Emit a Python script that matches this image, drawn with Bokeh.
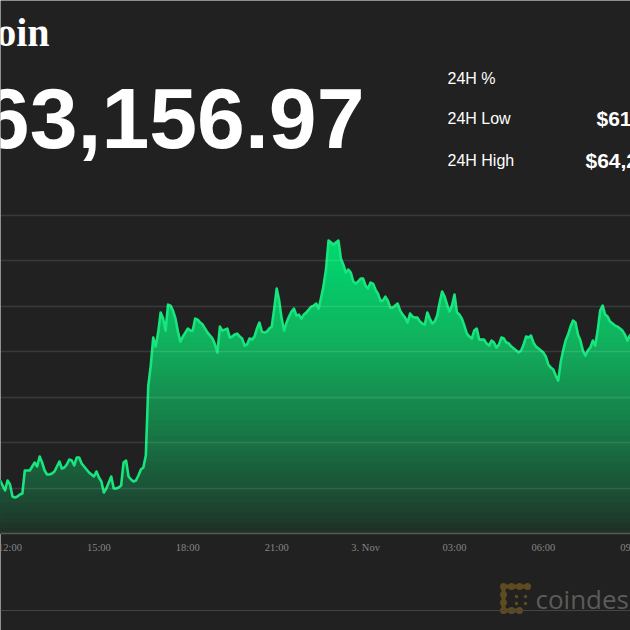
import numpy as np
from bokeh.plotting import figure
from bokeh.models import Range1d, Label, LabelSet, ColumnDataSource, Span, Grid, FixedTicker
from bokeh.embed import file_html
from bokeh.resources import INLINE

# ---------------- data (BTC/USD, 5-minute steps from 2 Nov 11:40) ----------------
start_hour = 11 + 40 / 60
step_minutes = 5
prices = [
    61583, 61528, 61473, 61583, 61539, 61407, 61396, 61407, 61429, 61440,
    61693, 61693, 61693, 61737, 61781, 61737, 61847, 61781, 61693, 61649,
    61649, 61660, 61682, 61737, 61792, 61715, 61726, 61759, 61814, 61803,
    61748, 61836, 61836, 61770, 61737, 61704, 61671, 61649, 61627, 61682,
    61616, 61572, 61451, 61495, 61561, 61627, 61495, 61495, 61506, 61528,
    61781, 61803, 61627, 61594, 61572, 61583, 61638, 61704, 61726, 61858,
    62628, 62848, 63156, 63057, 63211, 63431, 63365, 63233, 63519, 63508,
    63453, 63365, 63222, 63112, 63167, 63211, 63255, 63233, 63233, 63365,
    63354, 63321, 63299, 63255, 63211, 63178, 63145, 63079, 62991, 63277,
    63233, 63244, 63255, 63156, 63167, 63189, 63200, 63167, 63145, 63068,
    63079, 63145, 63134, 63167, 63255, 63321, 63222, 63211, 63222, 63255,
    63277, 63475, 63695, 63563, 63365, 63233, 63321, 63387, 63442, 63475,
    63398, 63409, 63365, 63409, 63431, 63464, 63497, 63508, 63530, 63475,
    63596, 63728, 63915, 64223, 64201, 64179, 64201, 64223, 64025, 63959,
    63871, 63904, 63871, 63772, 63750, 63772, 63805, 63805, 63728, 63695,
    63761, 63750, 63684, 63640, 63563, 63563, 63607, 63563, 63486, 63486,
    63508, 63530, 63453, 63409, 63376, 63321, 63420, 63387, 63376, 63376,
    63332, 63310, 63299, 63431, 63365, 63310, 63332, 63398, 63541, 63662,
    63607, 63519, 63442, 63508, 63629, 63431, 63409, 63365, 63288, 63200,
    63167, 63145, 63233, 63255, 63134, 63134, 63134, 63090, 63068, 63123,
    63101, 63046, 63079, 63156, 63145, 63101, 63090, 63057, 63035, 63013,
    62991, 63013, 63079, 63167, 63156, 63178, 63101, 63057, 63035, 63013,
    62991, 62947, 62859, 62826, 62804, 62738, 62683, 62881, 63013, 63123,
    63189, 63277, 63343, 63321, 63189, 63123, 63013, 62958, 63013, 63046,
    63123, 63068, 63233, 63453, 63508, 63409, 63387, 63332, 63310, 63288,
    63277, 63255, 63233, 63189, 63123, 63178, 63200,
]
hours = start_hour + np.arange(len(prices)) * step_minutes / 60.0
prices = np.array(prices, dtype=float)

tick_hours = [12, 15, 18, 21, 24, 27, 30, 33]
tick_labels = ["12:00", "15:00", "18:00", "21:00", "3. Nov", "03:00", "06:00", "09:00"]
grid_levels = [61500, 62000, 62500, 63000, 63500, 64000, 64500]
axis_floor = 61000

title_text = "Bitcoin"
price_text = "$63,156.97"
stat_labels = ["24H %", "24H Low", "24H High"]
stat_values = ["$61,210.84", "$64,270.02"]
brand_text = "coindesk"

# ---------------- layout ----------------
W = H = 630
BG = "#212121"
x0, x1 = 11.679, 32.94
y0, y1 = 59932.0, 66866.0


def px_x(px):
    return x0 + px / W * (x1 - x0)


def px_y(py):
    return y1 - py / H * (y1 - y0)


p = figure(width=W, height=H, x_range=Range1d(x0, x1), y_range=Range1d(y0, y1),
           x_axis_location=None, y_axis_location=None, toolbar_location=None,
           output_backend="svg", min_border=0, background_fill_color=BG,
           border_fill_color=BG, outline_line_color=None)
p.xgrid.visible = False
p.ygrid.visible = False

# gradient area fill: layered areas, painted from the top colour down
fill_top = 64400.0
edges = np.linspace(axis_floor, fill_top, 61)
stop_f = [0.0, 0.10, 0.33, 0.64, 0.92, 1.0]
stop_c = np.array([(31, 48, 38), (28, 72, 50), (24, 120, 70),
                   (16, 180, 95), (0, 214, 110), (0, 222, 114)], dtype=float)
for k in range(len(edges) - 2, -1, -1):
    lo, hi = edges[k], edges[k + 1]
    if k == len(edges) - 2:
        hi = 70000.0
    f = ((lo + edges[k + 1]) / 2 - axis_floor) / (fill_top - axis_floor)
    rgb = [int(round(np.interp(f, stop_f, stop_c[:, c]))) for c in range(3)]
    col = "#%02x%02x%02x" % tuple(rgb)
    p.varea(x=hours, y1=axis_floor, y2=np.minimum(prices, hi),
            fill_color=col, fill_alpha=1.0)

grid = Grid(dimension=1, ticker=FixedTicker(ticks=grid_levels),
            grid_line_color="white", grid_line_alpha=0.11, grid_line_width=1.5,
            level="overlay")
p.add_layout(grid)

p.line(hours, prices, line_color="#17e57d", line_width=2.6, line_join="round")

p.add_layout(Span(location=axis_floor, dimension="width", line_color="#5a5a5a",
                  line_width=1.5))
p.add_layout(Span(location=px_y(610), dimension="width", line_color="#444444",
                  line_width=1))

# x tick labels
tick_src = ColumnDataSource(dict(x=tick_hours, text=tick_labels))
p.add_layout(LabelSet(source=tick_src, x="x", y=H - 547, y_units="screen", text="text",
                      text_align="center", text_baseline="middle",
                      text_font="Liberation Serif", text_font_size="10.5px",
                      text_color="#858585"))

# header texts
p.add_layout(Label(x=49, y=H - 32, x_units="screen", y_units="screen", text=title_text,
                   text_align="right", text_baseline="middle",
                   text_font="Liberation Serif", text_font_style="bold",
                   text_font_size="40px", text_color="white"))
p.add_layout(Label(x=364, y=H - 117, x_units="screen", y_units="screen", text=price_text,
                   text_align="right", text_baseline="middle",
                   text_font="Liberation Sans", text_font_style="bold",
                   text_font_size="86px", text_color="white"))
for lab, yy in zip(stat_labels, [78, 118, 160]):
    p.add_layout(Label(x=447, y=H - yy, x_units="screen", y_units="screen", text=lab,
                       text_align="left", text_baseline="middle",
                       text_font="Liberation Sans", text_font_size="16px",
                       text_color="white"))
for val, xx, yy in zip(stat_values, [596, 585], [118, 160]):
    p.add_layout(Label(x=xx, y=H - yy, x_units="screen", y_units="screen", text=val,
                       text_align="left", text_baseline="middle",
                       text_font="Liberation Sans", text_font_style="bold",
                       text_font_size="21px", text_color="white"))

# brand mark
gold = "#5e4c20"
path_px = [(527, 586), (503, 586), (503, 610), (519, 610)]
p.line([px_x(a) for a, b in path_px], [px_y(b) for a, b in path_px],
       line_color=gold, line_width=4)
big = [(503, 586), (511, 586), (519, 586), (527, 586), (503, 594), (503, 602),
       (503, 610), (511, 610), (519, 610)]
p.scatter([px_x(a) for a, b in big], [px_y(b) for a, b in big], size=7,
          fill_color=gold, line_color=None)
small = [(516, 596), (525, 596), (516, 603), (525, 603)]
p.scatter([px_x(a) for a, b in small], [px_y(b) for a, b in small], size=3.5,
          fill_color=gold, line_color=None)
p.add_layout(Label(x=535, y=H - 598, x_units="screen", y_units="screen", text=brand_text,
                   text_align="left", text_baseline="middle", text_font="Open Sans",
                   text_font_size="26px", text_color="#5b5b5b"))

open("out.html", "w").write(file_html(p, INLINE))
